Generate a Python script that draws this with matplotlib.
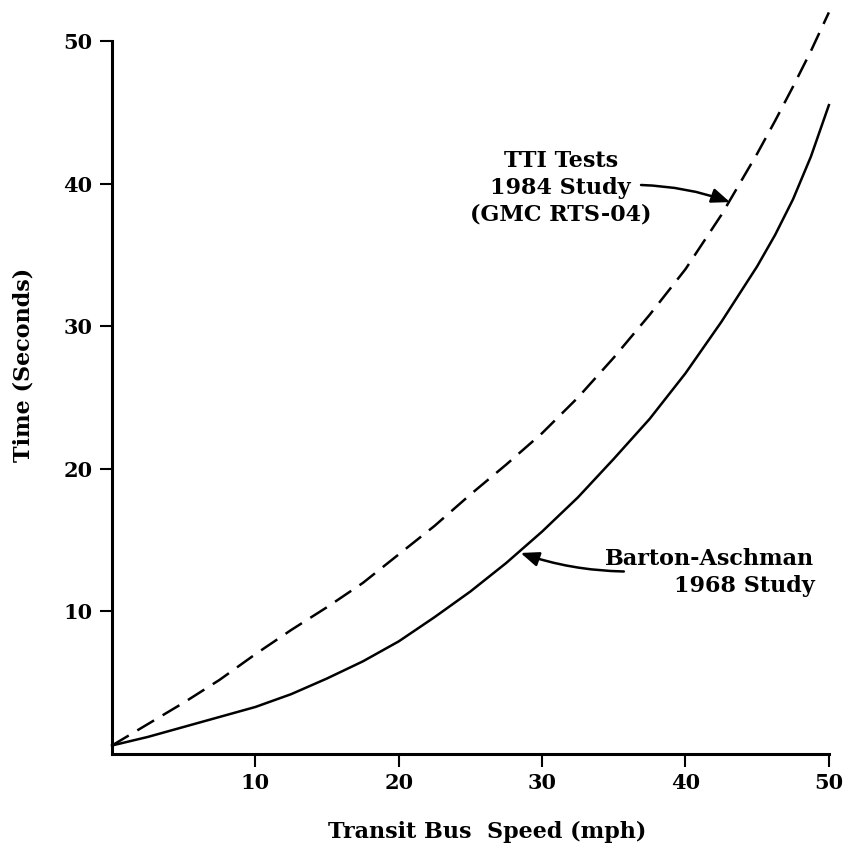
import matplotlib
matplotlib.use("Agg")
import matplotlib.pyplot as plt

# speed (mph) and time (s)
speed = [0, 2.5, 5, 7.5, 10, 12.5, 15, 17.5, 20, 22.5, 25, 27.5, 30,
         32.5, 35, 37.5, 40, 42.5, 45, 46.25, 47.5, 48.75, 50]
tti_1984 = [0.6, 2.1, 3.6, 5.2, 7.0, 8.7, 10.3, 12.0, 14.0, 16.0, 18.2, 20.3,
            22.5, 25.0, 27.8, 30.8, 34.0, 37.8, 42.1, 44.4, 46.8, 49.3, 52.0]
barton_1968 = [0.6, 1.2, 1.9, 2.6, 3.3, 4.2, 5.3, 6.5, 7.9, 9.6, 11.4, 13.4,
               15.6, 18.0, 20.7, 23.5, 26.7, 30.3, 34.2, 36.4, 38.9, 41.9, 45.5]

ticks = [10, 20, 30, 40, 50]

plt.rcParams["font.family"] = ["DejaVu Serif"]
plt.rcParams["font.weight"] = "bold"

fig = plt.figure(figsize=(8.51, 8.48), dpi=100)
ax = fig.add_axes([0.1316, 0.1108, 0.8424, 0.8409])

ax.plot(speed, tti_1984, color="black", lw=1.8, linestyle=(0, (7.8, 4.0)),
        clip_on=False)
ax.plot(speed, barton_1968, color="black", lw=1.8, clip_on=False)

ax.set_xlim(0, 50)
ax.set_ylim(0, 50)
ax.set_xticks(ticks)
ax.set_yticks(ticks)
ax.tick_params(direction="out", length=9, width=1.5, labelsize=15, pad=5)
for lab in ax.get_xticklabels() + ax.get_yticklabels():
    lab.set_fontweight("bold")

for side in ["top", "right"]:
    ax.spines[side].set_visible(False)
for side in ["left", "bottom"]:
    ax.spines[side].set_linewidth(2.2)

ax.set_xlabel("Transit Bus  Speed (mph)", fontsize=16, fontweight="bold",
              va="center")
ax.set_ylabel("Time (Seconds)", fontsize=16, fontweight="bold",
              va="center")
ax.xaxis.set_label_coords(0.523, -0.109)
ax.yaxis.set_label_coords(-0.123, 0.546)

# annotations
ax.text(31.3, 39.7, "TTI Tests\n1984 Study\n(GMC RTS-04)", ha="center",
        va="center", fontsize=16, fontweight="bold", linespacing=1.3)
ax.annotate("", xy=(43.1, 38.7), xytext=(36.9, 39.9),
            arrowprops=dict(arrowstyle="-|>,head_length=0.5,head_width=0.2",
                            color="black", lw=1.8,
                            connectionstyle="arc3,rad=-0.08",
                            mutation_scale=22, shrinkA=0, shrinkB=0))

ax.text(49.0, 12.7, "Barton-Aschman\n1968 Study", ha="right", va="center",
        multialignment="right", fontsize=16, fontweight="bold",
        linespacing=1.3)
ax.annotate("", xy=(28.5, 14.1), xytext=(35.7, 12.8),
            arrowprops=dict(arrowstyle="-|>,head_length=0.5,head_width=0.2",
                            color="black", lw=1.8,
                            connectionstyle="arc3,rad=-0.08",
                            mutation_scale=22, shrinkA=0, shrinkB=0))

fig.savefig("out.png", dpi=100)
